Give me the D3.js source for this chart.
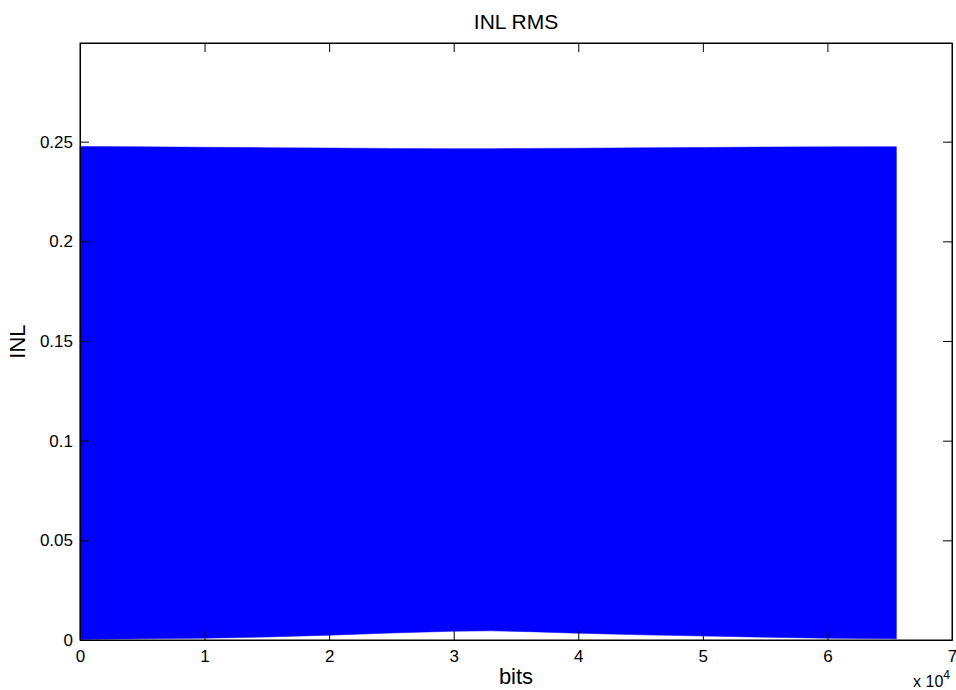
<!DOCTYPE html>
<html>
<head>
<meta charset="utf-8">
<script src="https://cdn.jsdelivr.net/npm/d3@7"></script>
<style>
  body { margin: 0; background: #fff; }
  text { font-family: "Liberation Sans", Arial, Helvetica, sans-serif; }
</style>
</head>
<body>
<div id="chart"></div>
<script>
// envelope of the INL trace (x in codes)
var bitsAt   = [0, 5000, 10000, 15000, 20000, 25000, 30000, 33000, 36000, 40000, 45000, 50000, 55000, 60000, 65535];
var inlUpper = [0.2476, 0.2474, 0.2472, 0.2470, 0.2468, 0.2466, 0.2465, 0.2465, 0.2466, 0.2467, 0.2469, 0.2471, 0.2473, 0.2474, 0.2475];
var inlLower = [0.0003, 0.0006, 0.0009, 0.0015, 0.0024, 0.0035, 0.0044, 0.0046, 0.0042, 0.0034, 0.0026, 0.0020, 0.0014, 0.0009, 0.0006];

var xTicks = [0, 10000, 20000, 30000, 40000, 50000, 60000, 70000];
var yTicks = [0, 0.05, 0.1, 0.15, 0.2, 0.25];

var data = bitsAt.map(function(b, i) { return {bits: b, hi: inlUpper[i], lo: inlLower[i]}; });

var margin = {top: 43, right: 4, bottom: 50, left: 80},
    width = 956 - margin.left - margin.right,
    height = 690 - margin.top - margin.bottom;

var svg = d3.select("#chart")
  .append("svg")
    .attr("width", 956)
    .attr("height", 690)
  .append("g")
    .attr("transform", "translate(" + margin.left + "," + margin.top + ")");

var x = d3.scaleLinear().domain([0, 70000]).range([0, width]);
var y = d3.scaleLinear().domain([0, 0.2995]).range([height, 0]);

// the trace is so dense it reads as a filled band
svg.append("path")
  .datum(data)
  .attr("fill", "#0000ff")
  .attr("stroke", "#0000ff")
  .attr("stroke-width", 0.5)
  .attr("d", d3.area()
    .x(function(d) { return x(d.bits); })
    .y0(function(d) { return y(d.lo); })
    .y1(function(d) { return y(d.hi); }));

// axes, MATLAB style: ticks inward on all four sides
var tl = 9;
svg.append("g")
  .attr("transform", "translate(0," + height + ")")
  .call(d3.axisBottom(x).tickValues(xTicks).tickSizeInner(-tl).tickSizeOuter(0).tickPadding(10)
    .tickFormat(function(d) { return d / 10000; }));
svg.append("g")
  .call(d3.axisTop(x).tickValues(xTicks).tickSizeInner(-tl).tickSizeOuter(0).tickFormat(""));
svg.append("g")
  .call(d3.axisLeft(y).tickValues(yTicks).tickSizeInner(-tl).tickSizeOuter(0).tickPadding(7)
    .tickFormat(function(d) { return d; }));
svg.append("g")
  .attr("transform", "translate(" + width + ",0)")
  .call(d3.axisRight(y).tickValues(yTicks).tickSizeInner(-tl).tickSizeOuter(0).tickFormat(""));

svg.selectAll(".domain").attr("stroke", "#000");
svg.selectAll(".tick line").attr("stroke", "#000");
svg.selectAll(".tick text").attr("font-size", 17).attr("fill", "#000")
  .style("font-family", '"Liberation Sans", Arial, sans-serif');

svg.append("rect")
  .attr("width", width).attr("height", height)
  .attr("fill", "none").attr("stroke", "#000").attr("stroke-width", 1);

svg.append("text")
  .attr("x", width / 2).attr("y", -14)
  .attr("text-anchor", "middle").attr("font-size", 21)
  .text("INL RMS");

svg.append("text")
  .attr("x", width / 2).attr("y", height + 44)
  .attr("text-anchor", "middle").attr("font-size", 22)
  .text("bits");

svg.append("text")
  .attr("transform", "translate(-55," + (height / 2) + ") rotate(-90)")
  .attr("text-anchor", "middle").attr("font-size", 22)
  .text("INL");

var ex = svg.append("text")
  .attr("x", width - 2).attr("y", height + 47)
  .attr("text-anchor", "end").attr("font-size", 16);
ex.append("tspan").text("x 10");
ex.append("tspan").attr("dy", -8).attr("font-size", 12).text("4");
</script>
</body>
</html>
